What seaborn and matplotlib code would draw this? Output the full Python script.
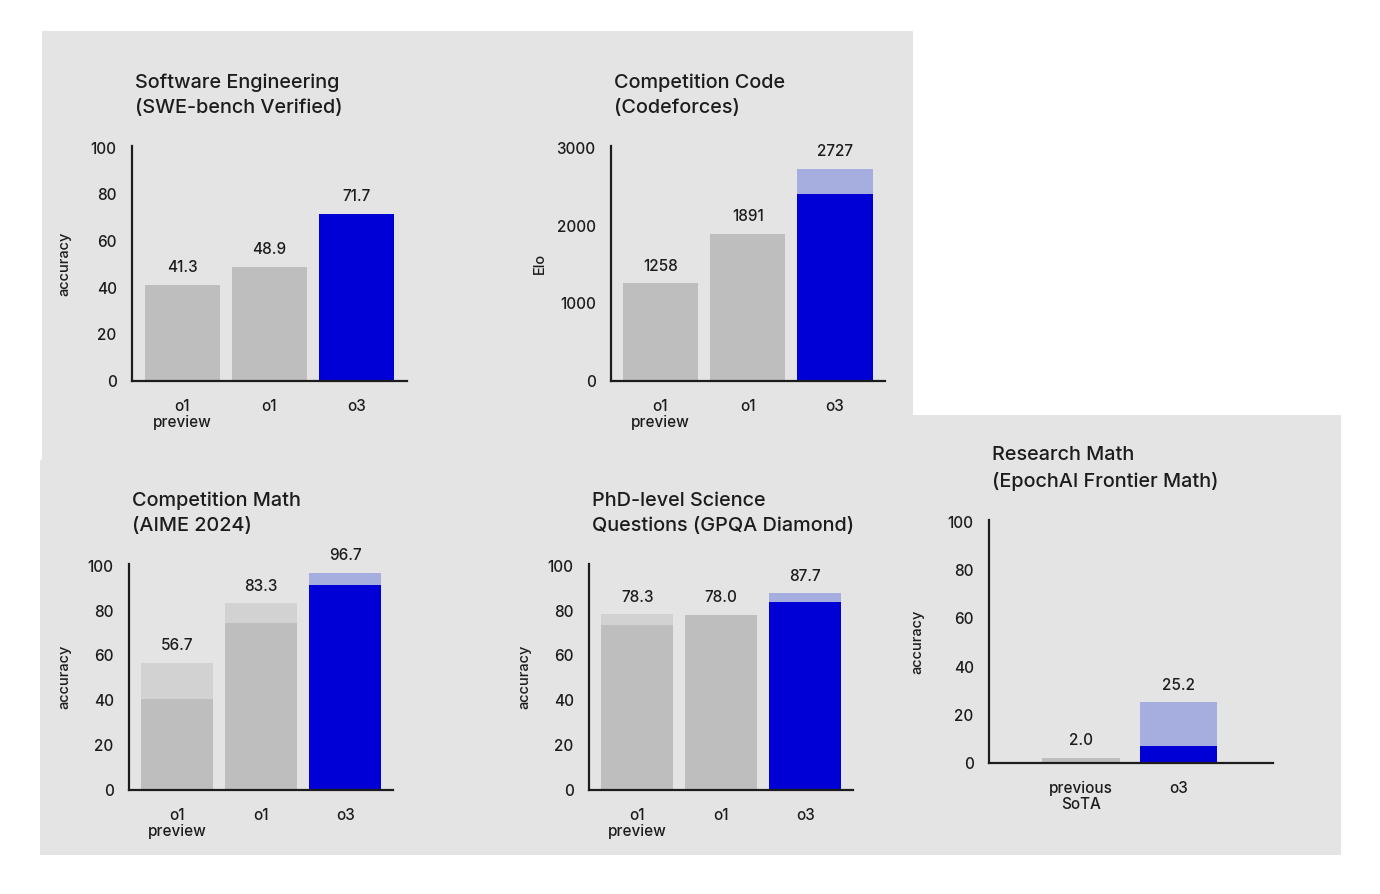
import matplotlib
matplotlib.use("Agg")
import matplotlib.pyplot as plt
import seaborn as sns
import pandas as pd
from matplotlib.patches import Rectangle

sns.set_theme(style="white")
plt.rcParams['font.family'] = ['Inter', 'DejaVu Sans']

# ---------------- data ----------------
three_models = ["o1\npreview", "o1", "o3"]

swe_total = [41.3, 48.9, 71.7]
swe_base = [41.3, 48.9, 71.7]

cf_total = [1258, 1891, 2727]
cf_base = [1258, 1891, 2410]

aime_total = [56.7, 83.3, 96.7]
aime_base = [40.7, 74.5, 91.6]

gpqa_total = [78.3, 78.0, 87.7]
gpqa_base = [73.8, 78.0, 83.9]

fm_models = ["previous\nSoTA", "o3"]
fm_total = [2.0, 25.2]
fm_base = [2.0, 7.1]

acc_ticks = [0, 20, 40, 60, 80, 100]
elo_ticks = [0, 1000, 2000, 3000]

# ---------------- style ----------------
W, H = 1380, 894
BG = "#e4e4e4"
GRAY = "#bebebe"
GRAY_LIGHT = "#d2d2d2"
BLUE = "#0000d6"
BLUE_LIGHT = "#a6addf"
INK = "#1c1c1c"

fig = plt.figure(figsize=(W / 100, H / 100), dpi=100)
fig.patch.set_facecolor("white")


def frect(l, t, r, b):
    return [l / W, 1 - b / H, (r - l) / W, (b - t) / H]


# gray backdrop panels (decorative)
for l, t, r, b in [(42, 31, 913, 460), (40, 460, 913, 855), (913, 415, 1341, 855)]:
    fig.add_artist(Rectangle((l / W, 1 - b / H), (r - l) / W, (b - t) / H,
                             transform=fig.transFigure, facecolor=BG,
                             edgecolor="none", zorder=0))

panels = [
    dict(models=three_models, total=swe_total, base=swe_base,
         title="Software Engineering\n(SWE-bench Verified)", ylabel="accuracy",
         ticks=acc_ticks, ymax=100, fmt="{:.1f}",
         box=(132, 146, 407, 381), xlim=(-0.58, 2.58), width=0.86, ylab_dx=-61),
    dict(models=three_models, total=cf_total, base=cf_base,
         title="Competition Code\n(Codeforces)", ylabel="Elo",
         ticks=elo_ticks, ymax=3000, fmt="{:.0f}",
         box=(611, 146, 885, 381), xlim=(-0.567, 2.573), width=0.86, ylab_dx=-64),
    dict(models=three_models, total=aime_total, base=aime_base,
         title="Competition Math\n(AIME 2024)", ylabel="accuracy",
         ticks=acc_ticks, ymax=100, fmt="{:.1f}",
         box=(129, 564, 393, 790), xlim=(-0.575, 2.57), width=0.854, ylab_dx=-58),
    dict(models=three_models, total=gpqa_total, base=gpqa_base,
         title="PhD-level Science\nQuestions (GPQA Diamond)", ylabel="accuracy",
         ticks=acc_ticks, ymax=100, fmt="{:.1f}",
         box=(589, 564, 853, 790), xlim=(-0.575, 2.57), width=0.854, ylab_dx=-58),
    dict(models=fm_models, total=fm_total, base=fm_base,
         title="Research Math\n(EpochAI Frontier Math)", ylabel="accuracy",
         ticks=acc_ticks, ymax=100, fmt="{:.1f}",
         box=(989, 520, 1273, 763), xlim=(-0.94, 1.965), width=0.79, ylab_dx=-65),
]

for p in panels:
    l, t, r, b = p["box"]
    ax = fig.add_axes(frect(l, t, r, b))
    ax.set_facecolor("none")
    models = p["models"]
    df = pd.DataFrame({"model": models, "total": p["total"], "base": p["base"]})
    light = {m: (BLUE_LIGHT if m == "o3" else GRAY_LIGHT) for m in models}
    dark = {m: (BLUE if m == "o3" else GRAY) for m in models}
    sns.barplot(data=df, x="model", y="total", hue="model", order=models,
                hue_order=models, palette=light, width=p["width"], saturation=1,
                legend=False, ax=ax, edgecolor="none", linewidth=0)
    sns.barplot(data=df, x="model", y="base", hue="model", order=models,
                hue_order=models, palette=dark, width=p["width"], saturation=1,
                legend=False, ax=ax, edgecolor="none", linewidth=0)
    for i, v in enumerate(p["total"]):
        ax.annotate(p["fmt"].format(v), (i, v), xytext=(0, 7),
                    textcoords="offset points", ha="center", va="bottom",
                    fontsize=11, color=INK, fontweight="medium")
    ax.set_xlim(*p["xlim"])
    ax.set_ylim(0, p["ymax"] * 1.008)
    ax.set_yticks(p["ticks"])
    ax.set_yticklabels([str(v) for v in p["ticks"]])
    ax.tick_params(axis="both", length=0, labelsize=11, colors=INK)
    ax.tick_params(axis="y", pad=11)
    ax.tick_params(axis="x", pad=13)
    for lbl in ax.get_xticklabels() + ax.get_yticklabels():
        lbl.set_fontweight("medium")
    for lbl in ax.get_xticklabels():
        lbl.set_linespacing(1.1)
    for s in ["top", "right"]:
        ax.spines[s].set_visible(False)
    for s in ["left", "bottom"]:
        ax.spines[s].set_color(INK)
        ax.spines[s].set_linewidth(1.6)
    ax.set_xlabel("")
    ax.set_ylabel(p["ylabel"], fontsize=10.5, color=INK, fontweight="medium")
    ax.yaxis.set_label_coords(p["ylab_dx"] / (r - l), 0.5)
    ax.set_title(p["title"], loc="left", x=3 / (r - l), pad=24, fontsize=14.3,
                 color=INK, linespacing=1.5, fontweight="medium")

fig.savefig("out.png", dpi=100)
